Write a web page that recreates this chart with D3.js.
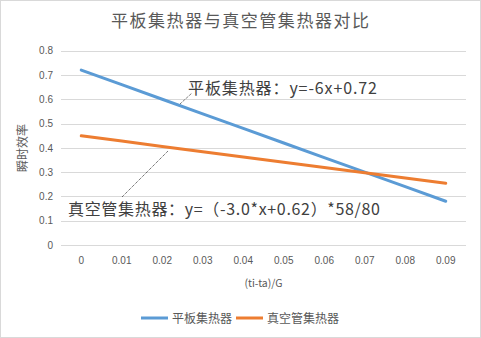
<!DOCTYPE html>
<html><head><meta charset="utf-8">
<script src="https://cdn.jsdelivr.net/npm/d3@7"></script>
<style>
html,body{margin:0;padding:0;background:#fff;}
svg{display:block;font-family:"Noto Sans CJK SC","Microsoft YaHei",sans-serif;}
</style></head>
<body>
<svg id="c" width="481" height="338"></svg>
<script>
const categories = [0, 0.01, 0.02, 0.03, 0.04, 0.05, 0.06, 0.07, 0.08, 0.09];
const xTickLabels = ["0","0.01","0.02","0.03","0.04","0.05","0.06","0.07","0.08","0.09"];
const flatPlate = [0.72, 0.66, 0.60, 0.54, 0.48, 0.42, 0.36, 0.30, 0.24, 0.18];
const vacuumTube = [0.4495, 0.4278, 0.4060, 0.3843, 0.3625, 0.3408, 0.3190, 0.2973, 0.2755, 0.2538];
const yTicks = [0, 0.1, 0.2, 0.3, 0.4, 0.5, 0.6, 0.7, 0.8];
const yTickLabels = ["0","0.1","0.2","0.3","0.4","0.5","0.6","0.7","0.8"];
const seriesNames = ["平板集热器", "真空管集热器"];
const colors = ["#5b9bd5", "#ed7d31"];
const title = "平板集热器与真空管集热器对比";
const xTitle = "(ti-ta)/G";
const yTitle = "瞬时效率";
const notes = ["平板集热器：y=-6x+0.72", "真空管集热器：y=（-3.0*x+0.62）*58/80"];

const svg = d3.select("#c");
const W = 481, H = 338;
const L = 61, R = 466, T = 50.7, B = 245;

svg.append("rect").attr("x",0.5).attr("y",0.5).attr("width",W-1).attr("height",H-1)
  .attr("fill","#fff").attr("stroke","#d9d9d9");

const x = d3.scaleBand().domain(categories).range([L,R]);
const y = d3.scaleLinear().domain([0,0.8]).range([B,T]);

// gridlines
svg.append("g").selectAll("line").data(yTicks).join("line")
  .attr("x1",L).attr("x2",R)
  .attr("y1",d=>Math.round(y(d))+0.5).attr("y2",d=>Math.round(y(d))+0.5)
  .attr("stroke","#d9d9d9").attr("stroke-width",1);

// y axis labels
const yAxis = d3.axisLeft(y).tickValues(yTicks).tickFormat((d,i)=>yTickLabels[i]).tickSize(0).tickPadding(8);
const gy = svg.append("g").attr("transform",`translate(${L},0)`).call(yAxis);
gy.select(".domain").remove();
gy.selectAll("text").attr("fill","#595959").style("font-size","10px");

// x axis labels
const xAxis = d3.axisBottom(x).tickFormat((d,i)=>xTickLabels[i]).tickSize(0).tickPadding(12);
const gx = svg.append("g").attr("transform",`translate(0,${B})`).call(xAxis);
gx.select(".domain").remove();
gx.selectAll("text").attr("fill","#595959").style("font-size","10px");

// lines
const cx = d=>x(d)+x.bandwidth()/2;
[flatPlate, vacuumTube].forEach((vals,i)=>{
  const line = d3.line().x((d,j)=>cx(categories[j])).y(d=>y(d));
  svg.append("path").datum(vals).attr("d",line).attr("fill","none")
    .attr("stroke",colors[i]).attr("stroke-width",3).attr("stroke-linecap","round");
});

// leader lines
svg.append("line").attr("x1",180).attr("y1",104).attr("x2",192).attr("y2",93)
  .attr("stroke","#000").attr("stroke-width",0.75).attr("stroke-dasharray","1,1");
svg.append("line").attr("x1",122).attr("y1",197).attr("x2",168).attr("y2",151)
  .attr("stroke","#000").attr("stroke-width",0.75).attr("stroke-dasharray","1,1");

// annotations
svg.append("text").attr("x",188).attr("y",94).text(notes[0])
  .attr("textLength",189).attr("lengthAdjust","spacing")
  .attr("fill","#404040").style("font-size","16px");
svg.append("text").attr("x",68).attr("y",215).text(notes[1])
  .attr("textLength",312).attr("lengthAdjust","spacing")
  .attr("fill","#404040").style("font-size","16px");

// title
svg.append("text").attr("x",111).attr("y",27).text(title)
  .attr("textLength",258).attr("lengthAdjust","spacing")
  .attr("fill","#595959").style("font-size","17px");

// axis titles
svg.append("text").attr("x",263.5).attr("y",287).attr("text-anchor","middle").text(xTitle)
  .attr("fill","#595959").style("font-size","10.5px");
svg.append("text").attr("transform","translate(27,148) rotate(-90)").attr("text-anchor","middle")
  .text(yTitle).attr("fill","#595959").style("font-size","12px");

// legend
const lg = svg.append("g");
const lx = [141, 236];
seriesNames.forEach((n,i)=>{
  lg.append("line").attr("x1",lx[i]).attr("x2",lx[i]+27).attr("y1",318).attr("y2",318)
    .attr("stroke",colors[i]).attr("stroke-width",3);
  lg.append("text").attr("x",lx[i]+31).attr("y",322.5).text(n)
    .attr("fill","#595959").style("font-size","12px");
});
</script>
</body></html>
